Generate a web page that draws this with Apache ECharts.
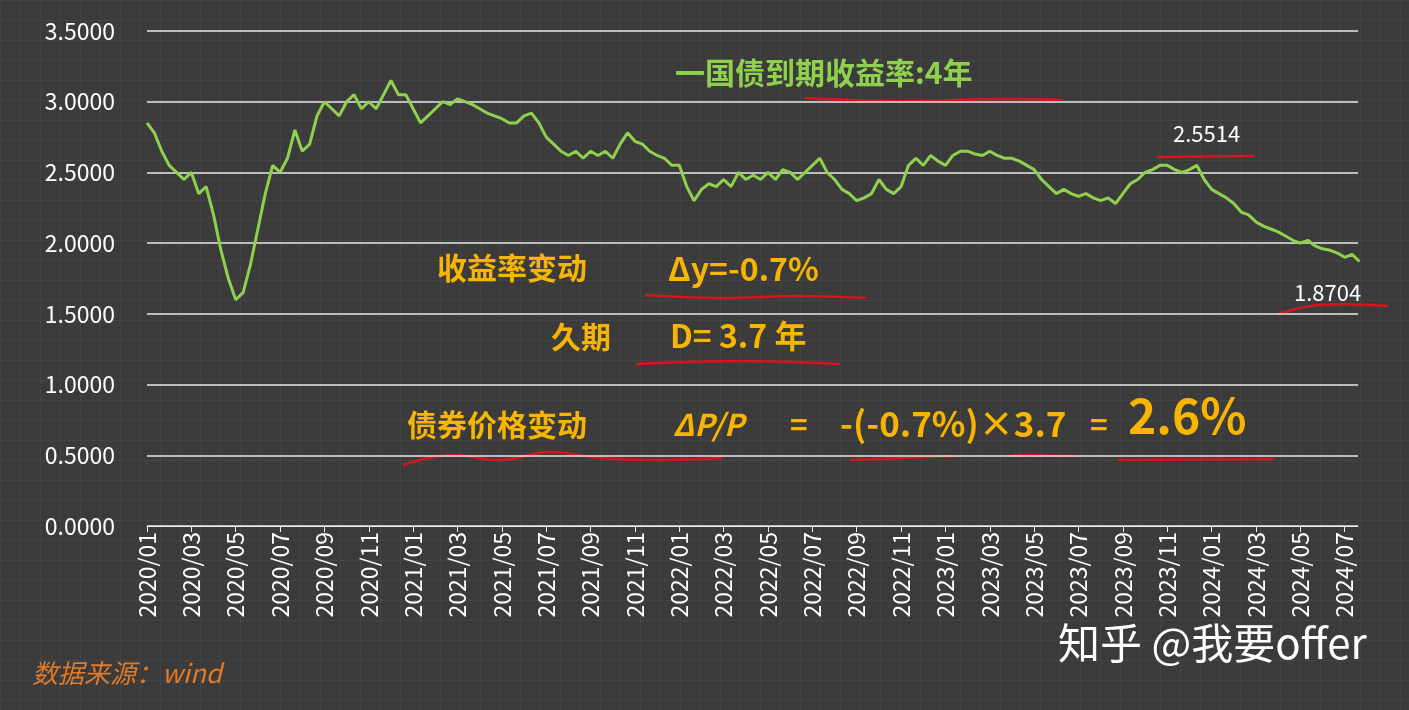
<!DOCTYPE html>
<html><head><meta charset="utf-8">
<script src="https://cdn.jsdelivr.net/npm/echarts@6/dist/echarts.min.js"></script>
<style>html,body{margin:0;padding:0;background:#3b3b3b;}#c{width:1409px;height:710px;
background-color:#3b3b3b;background-image:linear-gradient(#444 1px,transparent 1px),linear-gradient(90deg,#444 1px,transparent 1px);background-size:20px 20px;}</style>
</head><body><div id="c"></div>
<script>
const startYear = 2020;
const pointsPerMonth = 3;
const yields = [
2.85,2.78,2.65, 2.55,2.50,2.45, 2.50,2.35,2.40, 2.20,1.95,1.75, 1.60,1.65,1.85,
2.10,2.35,2.55, 2.50,2.60,2.80, 2.65,2.70,2.90, 3.00,2.95,2.90, 3.00,3.05,2.95,
3.00,2.95,3.05, 3.15,3.05,3.05, 2.95,2.85,2.90, 2.95,3.00,2.98, 3.02,3.00,2.98,
2.95,2.92,2.90, 2.88,2.85,2.85, 2.90,2.92,2.85, 2.75,2.70,2.65, 2.62,2.65,2.60,
2.65,2.62,2.65, 2.60,2.70,2.78, 2.72,2.70,2.65, 2.62,2.60,2.55, 2.55,2.40,2.30,
2.38,2.42,2.40, 2.45,2.40,2.50, 2.45,2.48,2.45, 2.50,2.45,2.52, 2.50,2.45,2.50,
2.55,2.60,2.50, 2.45,2.38,2.35, 2.30,2.32,2.35, 2.45,2.38,2.35, 2.40,2.55,2.60,
2.55,2.62,2.58, 2.55,2.62,2.65, 2.65,2.63,2.62, 2.65,2.62,2.60, 2.60,2.58,2.55,
2.52,2.45,2.40, 2.35,2.38,2.35, 2.33,2.35,2.32, 2.30,2.32,2.28, 2.35,2.42,2.45,
2.50,2.52,2.55, 2.55,2.52,2.50, 2.52,2.55,2.45, 2.38,2.35,2.32, 2.28,2.22,2.20,
2.15,2.12,2.10, 2.08,2.05,2.02, 2.00,2.02,1.98, 1.96,1.95,1.93, 1.90,1.92,1.87
];
const yTicks = [0,0.5,1,1.5,2,2.5,3,3.5];
const data = yields.map((v,i)=>[i/pointsPerMonth, v]);
const monthLabel = m => (startYear + Math.floor(m/12)) + '/' + String(m%12+1).padStart(2,'0');
const chart = echarts.init(document.getElementById('c'));
const red = '#d8141c', orange = '#f7b500';
const cjk = '"Noto Sans CJK SC"';
function txt(x,y,t,size,color,weight){return {type:'text',left:x,top:y,style:{text:t,fill:color,font:(weight||'bold')+' '+size+'px '+cjk}};}
function line(pts,w){return {type:'polyline',shape:{points:pts,smooth:0.4},style:{stroke:red,lineWidth:w||2.5,fill:null}};}
chart.setOption({
  backgroundColor:'transparent',
  animation:false,
  grid:{left:147,right:51,top:31,bottom:184},
  xAxis:{type:'value',min:0,max:54.6,interval:2,
    axisLine:{lineStyle:{color:'#eee'}},axisTick:{show:true,lineStyle:{color:'#eee'},length:6},
    splitLine:{show:false},
    axisLabel:{rotate:90,color:'#fff',fontSize:23,fontFamily:cjk,margin:6,showMaxLabel:false,formatter:v=>monthLabel(Math.round(v))}},
  yAxis:{type:'value',min:0,max:3.5,interval:0.5,
    axisLine:{show:false},axisTick:{show:false},
    splitLine:{lineStyle:{color:'#e8e8e8',width:1.5}},
    axisLabel:{color:'#fff',fontSize:23,fontFamily:cjk,margin:32,formatter:v=>v.toFixed(4)}},
  series:[{type:'line',data:data,symbol:'none',lineStyle:{color:'#8fd14f',width:3}}],
  graphic:[
    txt(675,58,'一国债到期收益率:4年',30,'#8fd14f'),
    line([[805,98],[900,101],[1000,99],[1062,100]]),
    {type:'text',left:1173,top:123,style:{text:'2.5514',fill:'#fff',font:'22px '+cjk}},
    line([[1157,157],[1254,156]]),
    {type:'text',left:1294,top:282,style:{text:'1.8704',fill:'#fff',font:'22px '+cjk}},
    line([[1278,314],[1320,305],[1388,306]]),
    txt(437,253,'收益率变动',30,orange),
    txt(668,253,'Δy=-0.7%',32,orange),
    line([[645,295],[720,298],[800,296],[866,298]]),
    txt(551,322,'久期',30,orange),
    txt(670,320,'D= 3.7 年',32,orange),
    line([[636,364],[740,361],[840,364]]),
    txt(407,410,'债券价格变动',30,orange),
    {type:'text',left:673,top:410,style:{text:'ΔP/P',fill:orange,font:'bold italic 30px '+cjk}},
    txt(790,410,'=',30,orange),
    txt(840,406,'-(-0.7%)×3.7',35,orange),
    txt(1090,410,'=',30,orange),
    txt(1128,392,'2.6%',48,orange),
    line([[403,465],[450,455],[500,460],[550,452],[600,458],[650,460],[722,458]]),
    line([[850,460],[955,456]]), line([[1013,455],[1075,456]]), line([[1118,460],[1274,459]]),
    {type:'text',left:32,top:660,style:{text:'数据来源：wind',fill:'#e07a2a',font:'italic 26px '+cjk}},
    {type:'text',left:1058,top:622,style:{text:'知乎 @我要offer',fill:'#fff',font:'42px '+cjk}}
  ]
});
</script></body></html>
